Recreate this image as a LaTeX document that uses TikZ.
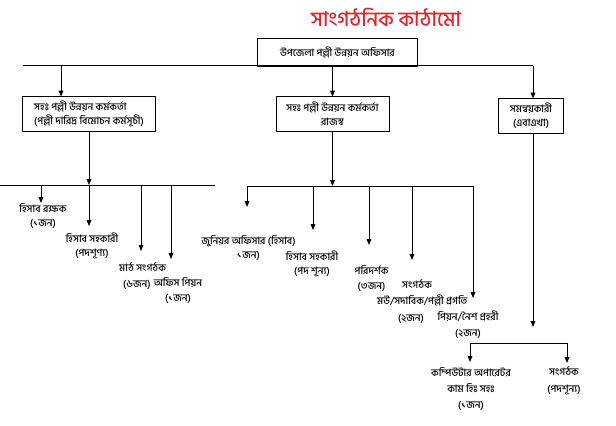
\documentclass[tikz,border=0pt]{standalone}
\usepackage{fontspec}
\IfFontExistsTF{Hind Siliguri Medium}
	{\setmainfont{Hind Siliguri Medium}[Script=Bengali]}
	{\setmainfont{Hind Siliguri}[Script=Bengali]}
\usetikzlibrary{arrows.meta}
\definecolor{titlered}{RGB}{224,36,46}

\begin{document}
\begin{tikzpicture}[x=0.03cm, y=-0.03cm,
		arr/.style={line width=0.3mm, -{Triangle[length=5pt,width=4pt]}},
		bus/.style={line width=0.3mm},
		post/.style={draw, line width=0.3mm, minimum height=1.02cm, inner sep=1pt, align=center, font=\fontsize{8.6}{12}\selectfont},
		lab/.style={inner sep=0pt, align=center, font=\fontsize{8.6}{12}\selectfont}]
		%%%%% START %%%%%
		
		\useasboundingbox[fill=white] (0,0) rectangle (616,426);
		
		\node[color=titlered, font=\fontsize{17.5}{20}\selectfont] (title) at (386,17) {সাংগঠনিক কাঠামো};
		
		\node[post, minimum width=4.77cm, minimum height=0.84cm] (top) at (337.5,52.5) {উপজেলা পল্লী উন্নয়ন অফিসার};
		\node[post, minimum width=3.96cm, align=left] (lbox) at (89,114) {সহঃ পল্লী উন্নয়ন কর্মকর্তা\\(পল্লী দারিদ্র বিমোচন কর্মসূচী)};
		\node[post, minimum width=3.39cm] (mbox) at (332.5,114) {সহঃ পল্লী উন্নয়ন কর্মকর্তা\\রাজস্ব};
		\node[post, minimum width=1.95cm] (rbox) at (531,116) {সমন্বয়কারী\\(এবাএখা)};
		
		% top bus
		\coordinate (b1w) at (23,66);
		\coordinate (b1e) at (533,66);
		\coordinate (a1) at (61,66);
		\draw[bus] (b1w) -- (b1e);
		\draw[arr] (a1) -- (a1 |- lbox.north);
		\draw[arr] (top.south -| mbox.north) -- (mbox.north);
		\draw[arr] (b1e) -- (b1e |- rbox.north);
		
		% left group
		\coordinate (b2w) at (0,185);
		\coordinate (b2e) at (215,185);
		\draw[bus] (b2w) -- (b2e);
		\draw[arr] (lbox.south) -- (lbox.south |- b2w);
		\coordinate (hrakT) at (41,203);
		\coordinate (hsahT) at (89,226);
		\coordinate (mathT) at (141,251);
		\coordinate (pionT) at (171,259);
		\draw[arr] (hrakT |- b2w) -- (hrakT);
		\draw[arr] (hsahT |- b2w) -- (hsahT);
		\draw[arr] (mathT |- b2w) -- (mathT);
		\draw[arr] (pionT |- b2w) -- (pionT);
		
		\node[lab] (hrak) at (43,216) {হিসাব রক্ষক\\(১জন)};
		\node[lab] (hsah) at (92,246) {হিসাব সহকারী\\(পদশূণ্য)};
		\node[lab, anchor=west, align=left, font=\fontsize{8.6}{14}\selectfont] (math) at (119,276) {মাঠ সংগঠক\\\hspace*{0.12cm}(৬জন)};
		\node[lab] (pion) at (178,290.5) {অফিস পিয়ন\\(১জন)};
		
		% middle group
		\coordinate (b3w) at (247,186);
		\coordinate (b3e) at (473,186);
		\draw[bus] (b3w) -- (b3e);
		\draw[arr] (mbox.south) -- (mbox.south |- b3w);
		\coordinate (junT) at (247,207);
		\coordinate (hs2T) at (313,230);
		\coordinate (poriT) at (369,245);
		\coordinate (songT) at (412,260);
		\coordinate (peonT) at (473,298);
		\draw[arr] (junT |- b3w) -- (junT);
		\draw[arr] (hs2T |- b3w) -- (hs2T);
		\draw[arr] (poriT |- b3w) -- (poriT);
		\draw[arr] (songT |- b3w) -- (songT);
		\draw[arr] (peonT |- b3w) -- (peonT);
		
		\node[lab] (jun) at (248.5,248) {জুনিয়র অফিসার (হিসাব)\\১জন)};
		\node[lab] (hs2) at (312,263.5) {হিসাব সহকারী\\(পদ শূন্য)};
		\node[lab] (pori) at (371.5,278.5) {পরিদর্শক\\(৩জন)};
		\node[lab, anchor=west, align=left, font=\fontsize{8.6}{14}\selectfont] (song) at (377,301.5) {\hspace*{0.75cm}সংগঠক\\মউ/সদাবিক/পল্লী প্রগতি\\\hspace*{0.63cm}(২জন)};
		\node[lab, font=\fontsize{8.6}{14}\selectfont] (peon) at (468,324.5) {পিয়ন/নৈশ প্রহরী\\(২জন)};
		
		% right group
		\coordinate (rT) at (533,327);
		\draw[arr] (rT |- rbox.south) -- (rT);
		\coordinate (b4w) at (470,343);
		\coordinate (b4e) at (567,343);
		\draw[bus] (b4w) -- (b4e);
		\coordinate (compT) at (470,362);
		\coordinate (sng2T) at (567,363);
		\draw[arr] (b4w) -- (compT);
		\draw[arr] (b4e) -- (sng2T);
		
		\node[lab, font=\fontsize{8.6}{14}\selectfont] (comp) at (471,389) {কম্পিউটার অপারেটর\\কাম হিঃ সহঃ\\(১জন)};
		\node[lab, font=\fontsize{8.6}{14}\selectfont] (sng2) at (564,381) {সংগঠক\\(পদশূন্য)};
		
		%%%%% END %%%%%
	\end{tikzpicture}
\end{document}
